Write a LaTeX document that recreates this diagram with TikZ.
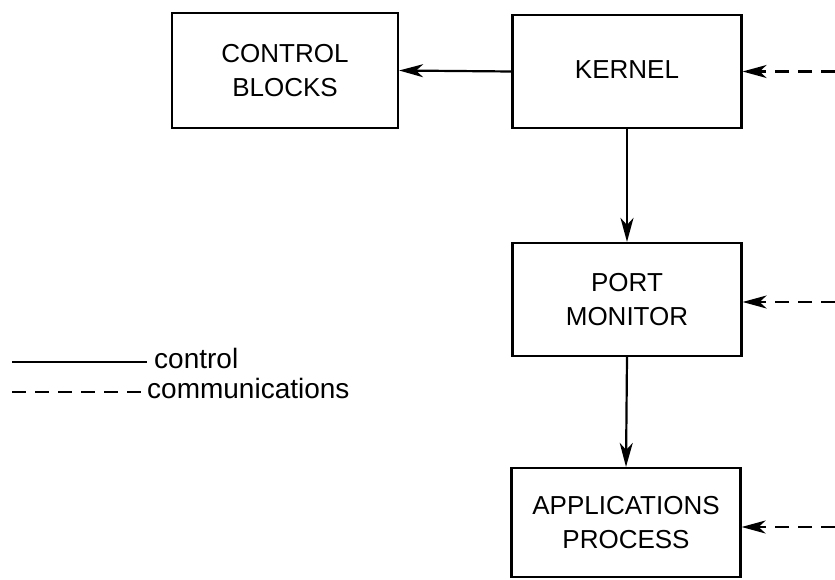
\documentclass[tikz,border=0pt]{standalone}
\usepackage{fontspec}
\setmainfont{Liberation Sans}
\usetikzlibrary{arrows.meta}
\begin{document}
\begin{tikzpicture}[x=1pt,y=-1pt,
  box/.style={draw,line width=2.2pt,minimum width=229pt,minimum height=113pt,
    align=center,inner sep=0pt,font=\fontsize{26}{34}\selectfont},
  ctrl/.style={line width=2.2pt,-{Stealth[length=24pt,width=13pt,inset=7pt]}},
  comm/.style={line width=2.2pt,dash pattern=on 14pt off 9pt,-{Stealth[length=24pt,width=13pt,inset=7pt]}},
  legtext/.style={anchor=base west,inner sep=0pt,font=\fontsize{28}{32}\selectfont}]
\useasboundingbox (0,0) rectangle (835,580);
\node[box,minimum width=226pt,minimum height=115pt] (cb) at (285,70.5) {CONTROL\\BLOCKS};
\node[box] (k) at (627,71.5) {\raisebox{4pt}{KERNEL}};
\node[box] (pm) at (627,299.5) {PORT\\MONITOR};
\node[box,minimum height=109pt] (ap) at (626,522.5) {\raisebox{-3pt}{APPLICATIONS}\\\raisebox{-3pt}{PROCESS}};
\draw[ctrl] (k.west) -- (cb.east);
\draw[ctrl] (k.south) -- (pm.north);
\draw[ctrl] (pm.south) -- (ap.north);
\coordinate (ck) at (835,71.5);
\coordinate (cp) at (835,302);
\coordinate (ca) at (835,527);
\draw[comm] (ck) -- (k.east |- ck);
\draw[comm] (cp) -- (pm.east |- cp);
\draw[comm] (ca) -- (ap.east |- ca);
\coordinate (l1a) at (12,362);
\coordinate (l1b) at (147,362);
\coordinate (l2a) at (12,392);
\coordinate (l2b) at (145,392);
\draw[line width=2.2pt] (l1a) -- (l1b);
\draw[line width=2.2pt,dash pattern=on 14pt off 9pt] (l2a) -- (l2b);
\node[legtext] (lt1) at (154,368) {control};
\node[legtext] (lt2) at (147,398) {communications};
\end{tikzpicture}
\end{document}
